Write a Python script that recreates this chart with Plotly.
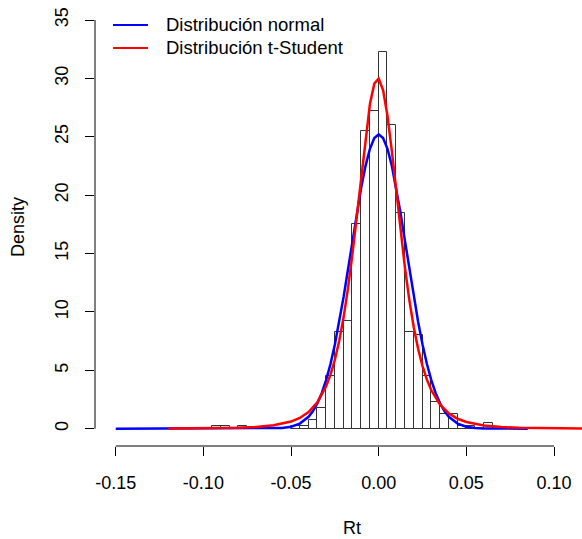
import plotly.graph_objects as go

# Histogram (density) of Rt, bin width 0.005
bin_width = 0.005
bin_left = [-0.095, -0.090, -0.080, -0.050, -0.045, -0.040, -0.035, -0.030, -0.025,
            -0.020, -0.015, -0.010, -0.005, 0.000, 0.005, 0.010, 0.015, 0.020,
            0.025, 0.030, 0.035, 0.040, 0.045, 0.050, 0.060]
bin_density = [0.25, 0.25, 0.25, 0.25, 0.25, 0.75, 1.75, 4.5, 8.25,
               9.25, 17.5, 25.5, 27.25, 32.25, 26.0, 18.5, 8.25, 8.0,
               4.5, 2.25, 1.25, 1.25, 0.25, 0.25, 0.5]

# Normal density curve
normal_x = [-0.15, -0.10, -0.07, -0.06, -0.055, -0.05, -0.045, -0.04, -0.0375, -0.035,
            -0.0325, -0.03, -0.0275, -0.025, -0.0225, -0.02, -0.0175, -0.015, -0.0125,
            -0.01, -0.0075, -0.005, -0.0025, 0.0, 0.0025, 0.005, 0.0075, 0.01, 0.0125,
            0.015, 0.0175, 0.02, 0.0225, 0.025, 0.0275, 0.03, 0.0325, 0.035, 0.0375,
            0.04, 0.045, 0.05, 0.055, 0.06, 0.07, 0.085]
normal_y = [0.0, 0.0, 0.0, 0.02, 0.06, 0.17, 0.44, 1.02, 1.51, 2.17,
            3.04, 4.16, 5.54, 7.21, 9.14, 11.31, 13.65, 16.06, 18.43,
            20.63, 22.51, 23.97, 24.89, 25.2, 24.89, 23.97, 22.51, 20.63, 18.43,
            16.06, 13.65, 11.31, 9.14, 7.21, 5.54, 4.16, 3.04, 2.17, 1.51,
            1.02, 0.44, 0.17, 0.06, 0.02, 0.0, 0.0]

# t-Student density curve
t_x = [-0.12, -0.10, -0.08, -0.07, -0.06, -0.05, -0.045, -0.04, -0.035, -0.03,
       -0.0275, -0.025, -0.0225, -0.02, -0.0175, -0.015, -0.0125, -0.01, -0.0075,
       -0.005, -0.0025, 0.0, 0.0025, 0.005, 0.0075, 0.01, 0.0125, 0.015, 0.0175,
       0.02, 0.0225, 0.025, 0.0275, 0.03, 0.035, 0.04, 0.045, 0.05, 0.06, 0.07,
       0.08, 0.10, 0.12]
t_y = [0.015, 0.03, 0.08, 0.15, 0.29, 0.61, 0.92, 1.43, 2.25, 3.63,
       4.63, 5.90, 7.53, 9.56, 12.04, 14.96, 18.26, 21.73, 25.05,
       27.8, 29.55, 29.97, 29.0, 26.8, 23.77, 20.34, 16.91, 13.74, 10.99,
       8.69, 6.83, 5.36, 4.20, 3.29, 2.05, 1.31, 0.85, 0.57, 0.27, 0.14,
       0.08, 0.03, 0.015]

series_names = ["Distribución normal", "Distribución t-Student"]
series_colors = ["#0000FF", "#FF0000"]

x_ticks = [-0.15, -0.10, -0.05, 0.00, 0.05, 0.10]
x_tick_labels = ["-0.15", "-0.10", "-0.05", "0.00", "0.05", "0.10"]
y_ticks = [0, 5, 10, 15, 20, 25, 30, 35]
y_tick_labels = ["0", "5", "10", "15", "20", "25", "30", "35"]

FONT = "Liberation Sans, Arial, sans-serif"

fig = go.Figure()
fig.add_trace(go.Bar(
    x=bin_left, y=bin_density, width=bin_width, offset=0,
    marker=dict(color="rgba(255,255,255,0)", line=dict(color="#333333", width=1)),
    showlegend=False, hoverinfo="x+y"))
fig.add_trace(go.Scatter(
    x=normal_x, y=normal_y, mode="lines", name=series_names[0],
    line=dict(color=series_colors[0], width=2.5)))
fig.add_trace(go.Scatter(
    x=t_x, y=t_y, mode="lines", name=series_names[1],
    line=dict(color=series_colors[1], width=2.5)))

# Legend drawn R-style (line sample + text), positioned in paper coordinates
legend_rows_y = [0.9525, 0.9005]
legend_shapes = []
legend_annots = []
for name, color, ry in zip(series_names, series_colors, legend_rows_y):
    legend_shapes.append(dict(type="line", xref="paper", yref="paper",
                              x0=0.0370, x1=0.1088, y0=ry, y1=ry,
                              line=dict(color=color, width=2.2)))
    legend_annots.append(dict(text=name, xref="paper", yref="paper",
                              x=0.1417, y=ry, xanchor="left", yanchor="middle",
                              showarrow=False, font=dict(family=FONT, size=18.5)))

fig.update_layout(
    width=582, height=539,
    margin=dict(l=95, r=0, t=4, b=93),
    plot_bgcolor="white", paper_bgcolor="white",
    font=dict(family=FONT, size=18, color="#000000"),
    bargap=0,
    showlegend=False,
    xaxis=dict(range=[-0.16182, 0.11596], tickvals=x_ticks, ticktext=x_tick_labels,
               ticks="outside", ticklen=9, tickcolor="#000000", tickwidth=1,
               showgrid=False, zeroline=False, showline=False,
               ticklabelstandoff=11),
    yaxis=dict(range=[-1.4815, 36.37], tickvals=y_ticks, ticktext=y_tick_labels,
               ticks="outside", ticklen=9, tickcolor="#000000", tickwidth=1,
               tickangle=-90, showgrid=False, zeroline=False, showline=False,
               ticklabelstandoff=10),
    shapes=[
        dict(type="line", xref="x", yref="paper", x0=x_ticks[0], x1=x_ticks[-1],
             y0=0, y1=0, line=dict(color="#000000", width=1)),
        dict(type="line", xref="paper", yref="y", x0=0, x1=0,
             y0=y_ticks[0], y1=y_ticks[-1], line=dict(color="#000000", width=1)),
    ] + legend_shapes,
    annotations=[
        dict(text="Rt", xref="paper", yref="paper", x=0.527, y=-0.185,
             xanchor="center", yanchor="middle", showarrow=False,
             font=dict(family=FONT, size=18)),
        dict(text="Density", xref="paper", yref="paper", x=-0.158, y=0.4955,
             xanchor="center", yanchor="middle", textangle=-90, showarrow=False,
             font=dict(family=FONT, size=18)),
    ] + legend_annots,
)

fig.write_html("out.html", config={"displayModeBar": False},
               post_script="document.body.style.margin='0';document.body.style.padding='0';")
